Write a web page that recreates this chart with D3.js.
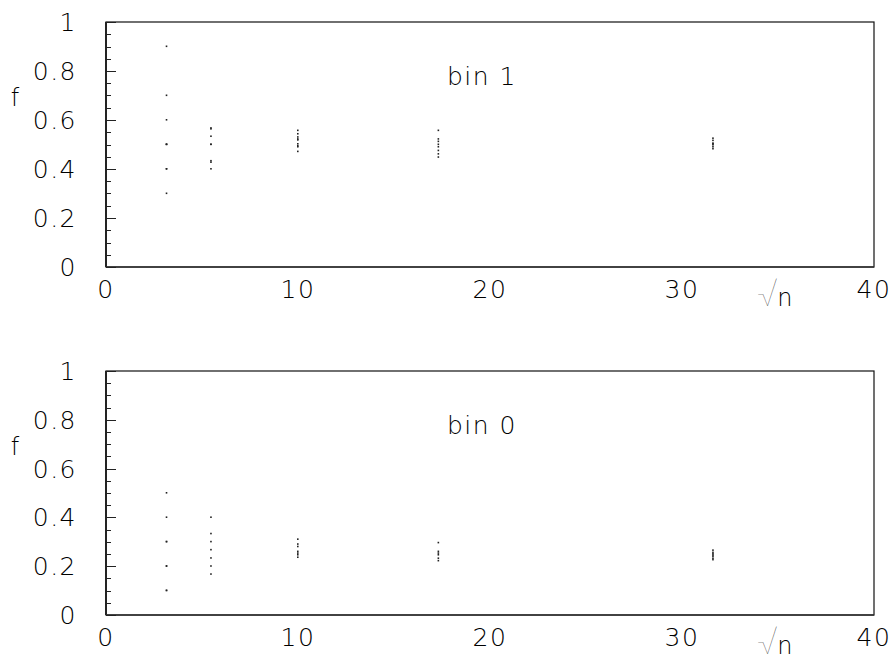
<!DOCTYPE html>
<html>
<head>
<meta charset="utf-8">
<script src="https://cdn.jsdelivr.net/npm/d3@7"></script>
<style>
  body { margin: 0; background: #fff; }
  text { font-family: "DejaVu Sans", Lato, sans-serif; font-weight: 200; fill: #000; }
</style>
</head>
<body>
<div id="chart"></div>
<script>
// sample sizes, plotted at sqrt(n)
var nValues = [10, 30, 100, 300, 1000]

// fitted fractions for bin 1, one list per n
var bin1 = [
  [0.9, 0.7, 0.6, 0.5, 0.5, 0.5, 0.4, 0.4, 0.3],
  [0.567, 0.563, 0.533, 0.5, 0.5, 0.433, 0.427, 0.4],
  [0.557, 0.543, 0.53, 0.522, 0.518, 0.502, 0.494, 0.49, 0.471],
  [0.557, 0.522, 0.512, 0.5, 0.49, 0.475, 0.461, 0.448],
  [0.525, 0.516, 0.505, 0.502, 0.498, 0.49, 0.482]
]

// fitted fractions for bin 0
var bin0 = [
  [0.5, 0.4, 0.3, 0.3, 0.2, 0.2, 0.1, 0.1],
  [0.4, 0.333, 0.3, 0.267, 0.233, 0.2, 0.167],
  [0.31, 0.29, 0.28, 0.26, 0.253, 0.246, 0.236],
  [0.296, 0.26, 0.253, 0.246, 0.232, 0.222],
  [0.265, 0.256, 0.25, 0.245, 0.24, 0.232, 0.226]
]

var xTicks = [0, 10, 20, 30, 40]
var yTicks = [0, 0.2, 0.4, 0.6, 0.8, 1]

var width = 895,
  height = 664

var svg = d3.select("#chart")
  .append("svg")
  .attr("width", width)
  .attr("height", height)

var left = 106, right = 874

var x = d3.scaleLinear().domain([0, 40]).range([left, right])

function panel(top, bottom, series, label) {
  var y = d3.scaleLinear().domain([0, 1]).range([bottom, top])
  var g = svg.append("g")

  // frame
  g.append("rect")
    .attr("x", left).attr("y", top)
    .attr("width", right - left).attr("height", bottom - top)
    .attr("fill", "none").attr("stroke", "#111").attr("stroke-width", 1.2)
  g.append("line")
    .attr("x1", left).attr("x2", left).attr("y1", top).attr("y2", bottom)
    .attr("stroke", "#111").attr("stroke-width", 1.6)
  g.append("line")
    .attr("x1", left).attr("x2", right).attr("y1", bottom).attr("y2", bottom)
    .attr("stroke", "#333").attr("stroke-width", 1.6)

  // y ticks pointing inward
  var minor = d3.range(0, 1.0001, 0.05)
  g.selectAll(".tk")
    .data(minor)
    .enter()
    .append("line")
    .attr("x1", left)
    .attr("x2", function (d) { return left + (Math.abs(d * 5 - Math.round(d * 5)) < 1e-6 ? 10 : 5) })
    .attr("y1", function (d) { return Math.round(y(d)) + 0.5 })
    .attr("y2", function (d) { return Math.round(y(d)) + 0.5 })
    .attr("stroke", "#222").attr("stroke-width", 1)

  g.selectAll(".yl")
    .data(yTicks)
    .enter()
    .append("text")
    .attr("x", 77)
    .attr("y", function (d) { return y(d) + 9 })
    .attr("text-anchor", "end")
    .style("font-size", "25px")
    .style("letter-spacing", "1.5px")
    .text(function (d) { return d })

  g.selectAll(".xl")
    .data(xTicks)
    .enter()
    .append("text")
    .attr("x", function (d) { return x(d) })
    .attr("y", bottom + 31)
    .attr("text-anchor", "middle")
    .style("font-size", "25px")
    .style("letter-spacing", "1.5px")
    .text(function (d) { return d })

  g.append("text")
    .attr("x", 15).attr("y", top + 84)
    .attr("text-anchor", "middle")
    .style("font-size", "24px")
    .text("f")

  var sq = g.append("text")
    .attr("x", 757).attr("y", bottom + 39)
  sq.append("tspan").style("font-size", "32px").text("√")
  sq.append("tspan").style("font-size", "24px").text("n")

  g.append("text")
    .attr("x", 447).attr("y", top + 63)
    .style("font-size", "25px")
    .style("letter-spacing", "1.5px")
    .text(label)

  // points
  series.forEach(function (vals, i) {
    g.selectAll(null)
      .data(vals)
      .enter()
      .append("rect")
      .attr("x", x(Math.sqrt(nValues[i])) - 1)
      .attr("y", function (d) { return y(d) - 1 })
      .attr("width", 1.6)
      .attr("height", 1.6)
      .attr("fill", "#222")
  })
}

panel(22, 267, bin1, "bin 1")
panel(371, 615, bin0, "bin 0")
</script>
</body>
</html>
